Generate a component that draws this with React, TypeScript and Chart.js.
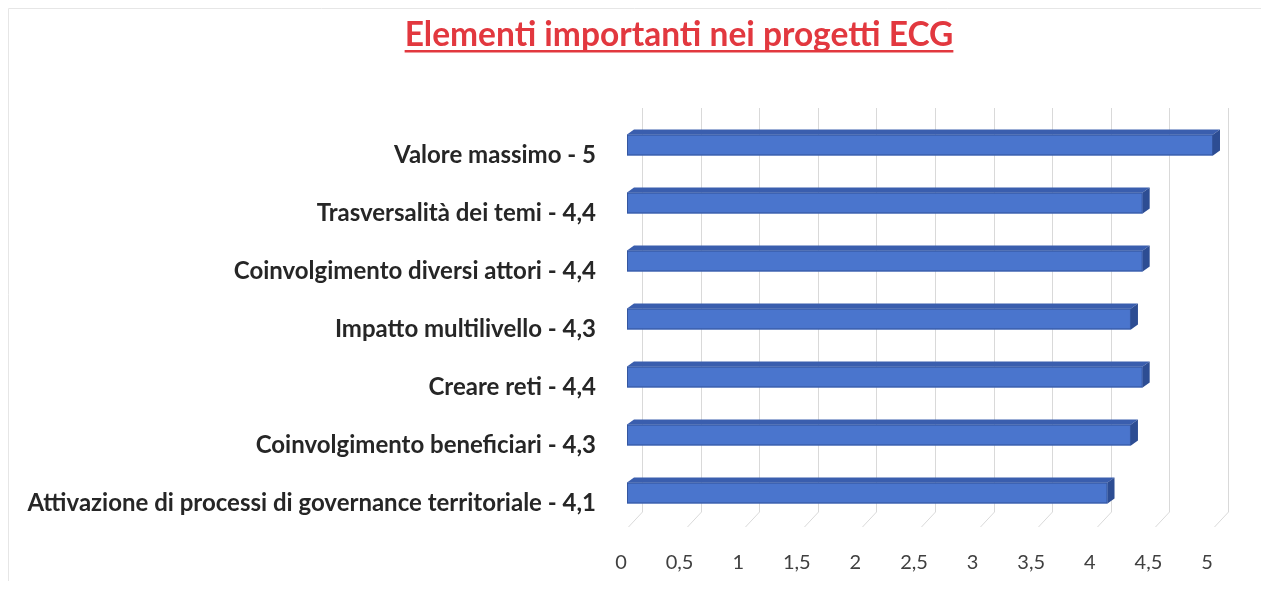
import { useEffect, useRef } from "react";
import { Chart, registerables } from "chart.js";

Chart.register(...registerables);

const TITLE = "Elementi importanti nei progetti ECG";
const categories = [
  "Valore massimo - 5",
  "Trasversalità dei temi - 4,4",
  "Coinvolgimento diversi attori - 4,4",
  "Impatto multilivello - 4,3",
  "Creare reti - 4,4",
  "Coinvolgimento beneficiari - 4,3",
  "Attivazione di processi di governance territoriale - 4,1",
];
const values = [5, 4.4, 4.4, 4.3, 4.4, 4.3, 4.1];
const xMin = 0;
const xMax = 5;
const xStep = 0.5;

const W = 1253;
const H = 573;

const wallPlugin = {
  id: "wall3d",
  beforeDatasetsDraw(chart: any) {
    const xs = chart.scales.x;
    const { top, bottom } = chart.chartArea;
    const ctx = chart.ctx;
    ctx.save();
    ctx.strokeStyle = "#d9d9d9";
    ctx.lineWidth = 1;
    xs.ticks.forEach((t: any) => {
      const x = Math.round(xs.getPixelForValue(t.value)) + 0.5;
      ctx.beginPath();
      ctx.moveTo(x + 15, top - 8);
      ctx.lineTo(x + 15, bottom - 10);
      ctx.lineTo(x + 1, bottom + 5);
      ctx.stroke();
    });
    // faint outer frame
    ctx.strokeStyle = "#e6e6e6";
    ctx.beginPath();
    ctx.moveTo(0.5, H);
    ctx.lineTo(0.5, 0.5);
    ctx.lineTo(W, 0.5);
    ctx.stroke();
    ctx.restore();
  },
};

const barPlugin = {
  id: "bar3d",
  afterDatasetsDraw(chart: any) {
    const ctx = chart.ctx;
    const meta = chart.getDatasetMeta(0);
    const dx = 7;
    const dy = 5;
    ctx.save();
    meta.data.forEach((el: any) => {
      const { x, y, base, height } = el.getProps(["x", "y", "base", "height"], true);
      const yt = y - height / 2;
      const yb = y + height / 2;
      // top face
      ctx.fillStyle = "#3a5eae";
      ctx.beginPath();
      ctx.moveTo(base, yt);
      ctx.lineTo(base + dx, yt - dy);
      ctx.lineTo(x + dx, yt - dy);
      ctx.lineTo(x, yt);
      ctx.closePath();
      ctx.fill();
      // side face
      ctx.fillStyle = "#2d4d93";
      ctx.beginPath();
      ctx.moveTo(x, yt);
      ctx.lineTo(x + dx, yt - dy);
      ctx.lineTo(x + dx, yb - dy);
      ctx.lineTo(x, yb);
      ctx.closePath();
      ctx.fill();
      // outline on front
      ctx.strokeStyle = "#34569f";
      ctx.lineWidth = 1;
      ctx.strokeRect(base + 0.5, yt + 0.5, x - base - 1, yb - yt - 1);
    });
    ctx.restore();
  },
};

const titlePlugin = {
  id: "titleU",
  afterDraw(chart: any) {
    const ctx = chart.ctx;
    ctx.save();
    ctx.font = "bold 33.5px Lato";
    ctx.fillStyle = "#e2383f";
    ctx.textAlign = "center";
    ctx.textBaseline = "alphabetic";
    const cx = 671;
    const by = 38;
    ctx.fillText(TITLE, cx, by);
    const w = ctx.measureText(TITLE).width;
    ctx.fillRect(cx - w / 2, by + 4, w, 2.5);
    ctx.restore();
  },
};

export default function App() {
  const ref = useRef<HTMLCanvasElement>(null);
  useEffect(() => {
    if (!ref.current) return;
    const chart = new Chart(ref.current, {
      type: "bar",
      data: {
        labels: categories,
        datasets: [
          {
            data: values,
            backgroundColor: "#4a75cd",
            borderWidth: 0,
            categoryPercentage: 1,
            barPercentage: 0.36,
          },
        ],
      },
      options: {
        indexAxis: "y",
        responsive: false,
        animation: false,
        layout: { padding: { top: 108, right: 48, bottom: 0, left: 0 } },
        plugins: {
          legend: { display: false },
          tooltip: { enabled: false },
          title: { display: false },
        },
        scales: {
          x: {
            min: xMin,
            max: xMax,
            grid: { display: false, drawTicks: false },
            border: { display: false },
            ticks: {
              stepSize: xStep,
              autoSkip: false,
              maxRotation: 0,
              padding: 29,
              labelOffset: -6,
              color: "#404040",
              font: { family: "Lato", size: 20 },
              callback: (v: any) => String(v).replace(".", ","),
            },
            afterFit: (s: any) => {
              s.height = 59;
            },
          },
          y: {
            grid: { display: false, drawTicks: false },
            border: { display: false },
            ticks: {
              padding: 31,
              labelOffset: 10,
              color: "#262626",
              font: { family: "Lato", size: 24, weight: "bold" },
            },
            afterFit: (s: any) => {
              s.width = 619;
            },
          },
        },
      },
      plugins: [wallPlugin, barPlugin, titlePlugin],
    });
    return () => chart.destroy();
  }, []);
  return (
    <div style={{ width: W, height: H }}>
      <canvas ref={ref} width={W} height={H} style={{ display: "block" }} />
    </div>
  );
}
